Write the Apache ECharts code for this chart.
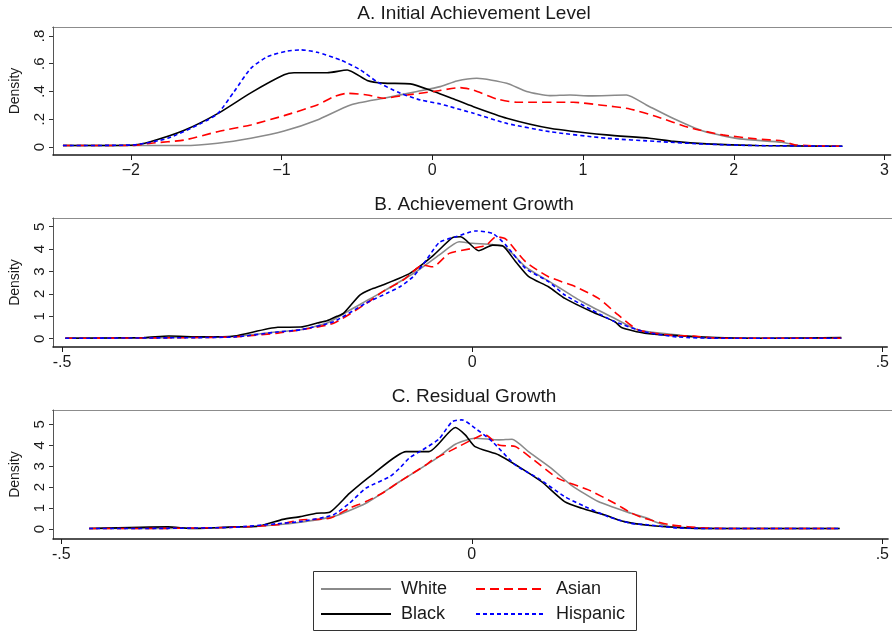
<!DOCTYPE html>
<html><head><meta charset="utf-8">
<script src="https://cdn.jsdelivr.net/npm/echarts@6/dist/echarts.min.js"></script>
<style>html,body{margin:0;padding:0;background:#fff}#c{width:892px;height:631px}</style>
</head><body><div id="c"></div>
<script>
const panelTitles = ['A. Initial Achievement Level','B. Achievement Growth','C. Residual Growth'];
const groups = ['White','Black','Asian','Hispanic'];
const ticksA_x = [-2,-1,0,1,2,3];
const ticksA_y = [0,0.2,0.4,0.6,0.8];
const ticksBC_x = [-0.5,0,0.5];
const ticksBC_y = [0,1,2,3,4,5];

const aWhite = [[-2.45,0.01],[-2.0,0.01],[-1.645,0.01],[-1.424,0.027],[-1.204,0.063],[-0.983,0.115],[-0.763,0.195],[-0.542,0.303],[-0.322,0.351],[-0.101,0.40],[0.053,0.435],[0.163,0.476],[0.295,0.495],[0.494,0.459],[0.626,0.40],[0.78,0.37],[0.913,0.375],[1.045,0.368],[1.288,0.375],[1.42,0.303],[1.596,0.207],[1.795,0.115],[2.04,0.058],[2.32,0.034],[2.43,0.01],[2.72,0.005]];
const aBlack = [[-2.45,0.01],[-2.0,0.012],[-1.865,0.04],[-1.645,0.12],[-1.424,0.24],[-1.204,0.39],[-0.983,0.52],[-0.917,0.535],[-0.697,0.535],[-0.564,0.555],[-0.432,0.48],[-0.322,0.46],[-0.146,0.455],[0.01,0.40],[0.12,0.355],[0.273,0.29],[0.494,0.207],[0.78,0.135],[1.155,0.087],[1.44,0.063],[1.6,0.04],[1.82,0.022],[2.15,0.01],[2.72,0.005]];
const aAsian = [[-2.45,0.01],[-2.0,0.01],[-1.865,0.027],[-1.645,0.05],[-1.424,0.11],[-1.204,0.159],[-0.983,0.226],[-0.763,0.303],[-0.653,0.363],[-0.564,0.387],[-0.432,0.375],[-0.322,0.351],[-0.167,0.375],[0.01,0.40],[0.185,0.428],[0.273,0.41],[0.428,0.346],[0.56,0.322],[0.935,0.322],[1.11,0.303],[1.31,0.274],[1.486,0.219],[1.706,0.139],[1.927,0.087],[2.147,0.058],[2.323,0.043],[2.41,0.014],[2.72,0.005]];
const aHispanic = [[-2.45,0.01],[-1.98,0.015],[-1.755,0.063],[-1.534,0.17],[-1.424,0.24],[-1.314,0.40],[-1.204,0.567],[-1.093,0.651],[-0.961,0.692],[-0.873,0.70],[-0.763,0.683],[-0.608,0.627],[-0.476,0.555],[-0.366,0.47],[-0.212,0.387],[-0.079,0.339],[0.053,0.31],[0.119,0.29],[0.273,0.243],[0.494,0.17],[0.78,0.11],[1.155,0.063],[1.486,0.04],[1.817,0.02],[2.15,0.01],[2.72,0.005]];

const bWhite = [[-0.496,0.02],[-0.37,0.05],[-0.29,0.1],[-0.237,0.31],[-0.209,0.4],[-0.177,0.7],[-0.149,1.28],[-0.109,2.1],[-0.068,3.0],[-0.04,3.74],[-0.016,4.33],[0.0,4.26],[0.025,4.2],[0.041,4.08],[0.065,3.21],[0.101,2.4],[0.134,1.65],[0.174,0.9],[0.202,0.39],[0.243,0.2],[0.28,0.05],[0.35,0.02],[0.45,0.03]];
const bBlack = [[-0.496,0.02],[-0.4,0.05],[-0.37,0.12],[-0.33,0.08],[-0.29,0.12],[-0.237,0.51],[-0.209,0.52],[-0.189,0.7],[-0.177,0.8],[-0.165,1.0],[-0.157,1.13],[-0.137,1.95],[-0.124,2.2],[-0.109,2.4],[-0.076,2.92],[-0.048,3.7],[-0.024,4.51],[-0.014,4.55],[0.008,3.93],[0.025,4.18],[0.037,4.15],[0.053,3.44],[0.069,2.77],[0.093,2.32],[0.113,1.8],[0.146,1.2],[0.174,0.76],[0.182,0.5],[0.21,0.25],[0.275,0.09],[0.36,0.02],[0.45,0.05]];
const bAsian = [[-0.496,0.02],[-0.37,0.04],[-0.29,0.08],[-0.237,0.25],[-0.209,0.4],[-0.169,0.69],[-0.129,1.58],[-0.109,2.1],[-0.084,2.62],[-0.06,3.29],[-0.048,3.21],[-0.028,3.81],[0.0,4.03],[0.017,4.18],[0.029,4.55],[0.041,4.45],[0.065,3.44],[0.093,2.77],[0.126,2.32],[0.154,1.8],[0.178,1.06],[0.202,0.4],[0.243,0.15],[0.27,0.12],[0.30,0.02],[0.45,0.02]];
const bHispanic = [[-0.496,0.02],[-0.37,0.04],[-0.29,0.08],[-0.237,0.3],[-0.209,0.4],[-0.169,0.76],[-0.129,1.6],[-0.104,2.03],[-0.088,2.32],[-0.072,2.77],[-0.056,3.51],[-0.04,4.3],[-0.02,4.55],[0.004,4.81],[0.025,4.7],[0.041,4.18],[0.065,3.14],[0.093,2.55],[0.113,1.95],[0.146,1.28],[0.174,0.76],[0.21,0.31],[0.25,0.08],[0.3,0.02],[0.45,0.02]];

const cWhite = [[-0.466,0.02],[-0.37,0.03],[-0.29,0.08],[-0.237,0.2],[-0.209,0.32],[-0.169,0.59],[-0.129,1.23],[-0.088,2.26],[-0.044,3.35],[-0.02,4.05],[0.004,4.34],[0.033,4.26],[0.049,4.29],[0.069,3.7],[0.097,2.9],[0.121,2.1],[0.154,1.31],[0.194,0.75],[0.214,0.51],[0.223,0.35],[0.243,0.1],[0.283,0.02],[0.448,0.02]];
const cBlack = [[-0.466,0.02],[-0.37,0.1],[-0.34,0.02],[-0.29,0.1],[-0.262,0.12],[-0.23,0.46],[-0.209,0.59],[-0.189,0.75],[-0.173,0.8],[-0.149,1.7],[-0.121,2.6],[-0.08,3.7],[-0.052,3.7],[-0.02,4.85],[-0.008,4.5],[0.004,3.94],[0.033,3.54],[0.057,2.98],[0.085,2.26],[0.113,1.31],[0.134,0.99],[0.162,0.67],[0.186,0.35],[0.214,0.18],[0.263,0.05],[0.3,0.02],[0.448,0.02]];
const cAsian = [[-0.466,0.02],[-0.37,0.03],[-0.29,0.08],[-0.237,0.2],[-0.209,0.43],[-0.173,0.51],[-0.149,0.99],[-0.129,1.31],[-0.109,1.71],[-0.088,2.26],[-0.056,3.06],[-0.048,3.3],[-0.028,3.7],[-0.016,3.94],[0.004,4.34],[0.015,4.53],[0.033,4.02],[0.053,3.94],[0.073,3.38],[0.105,2.42],[0.142,1.87],[0.174,1.23],[0.194,0.77],[0.21,0.51],[0.243,0.19],[0.283,0.05],[0.32,0.02],[0.448,0.02]];
const cHispanic = [[-0.466,0.02],[-0.37,0.03],[-0.29,0.08],[-0.237,0.25],[-0.209,0.35],[-0.169,0.67],[-0.149,1.23],[-0.129,1.95],[-0.1,2.5],[-0.088,2.9],[-0.076,3.4],[-0.06,3.78],[-0.04,4.3],[-0.024,5.13],[-0.012,5.22],[0.004,4.82],[0.025,4.18],[0.053,3.06],[0.081,2.42],[0.113,1.55],[0.138,1.07],[0.166,0.59],[0.194,0.27],[0.214,0.2],[0.25,0.05],[0.3,0.02],[0.448,0.02]];

const FONT = 'Liberation Sans, Arial, Helvetica, sans-serif';
const styles = {
  White: {color:'#8a8a8a', type:'solid', width:1.6},
  Black: {color:'#000000', type:'solid', width:1.6},
  Asian: {color:'#ff0000', type:[9,5], width:1.6},
  Hispanic: {color:'#0000ff', type:[4,3], width:1.6}
};
const panels = [
  {data:{White:aWhite,Black:aBlack,Asian:aAsian,Hispanic:aHispanic}, top:27, height:128, xmin:-2.516, xmax:3.04, ymin:-0.058, ymax:0.865, xt:ticksA_x, yt:ticksA_y, ty:14},
  {data:{White:bWhite,Black:bBlack,Asian:bAsian,Hispanic:bHispanic}, top:218, height:129, xmin:-0.511, xmax:0.506, ymin:-0.37, ymax:5.39, xt:ticksBC_x, yt:ticksBC_y, ty:205},
  {data:{White:cWhite,Black:cBlack,Asian:cAsian,Hispanic:cHispanic}, top:410, height:129, xmin:-0.51, xmax:0.507, ymin:-0.48, ymax:5.69, xt:ticksBC_x, yt:ticksBC_y, ty:397}
];
function fmtNum(v, minusSign){
  if (Math.abs(v) < 1e-9) return '0';
  let s = String(Math.round(v*10)/10);
  s = s.replace(/^(-?)0\./,'$1.');
  return s.replace('-', minusSign);
}
const grid=[], xAxis=[], yAxis=[], series=[], graphic=[];
panels.forEach((p,i)=>{
  grid.push({left:52, top:p.top, right:0, height:p.height, show:false, containLabel:false});
  xAxis.push({type:'value', gridIndex:i, min:p.xmin, max:p.xmax,
    axisLine:{show:true, onZero:false, lineStyle:{color:'#1a1a1a', width:1.5}},
    axisTick:{show:true, length:5, customValues:p.xt, lineStyle:{color:'#1a1a1a'}},
    axisLabel:{customValues:p.xt, margin:8, color:'#1a1a1a', fontFamily:FONT, fontSize:16, formatter:v=>fmtNum(v, i===0?'\u2212':'-')},
    splitLine:{show:false}});
  yAxis.push({type:'value', gridIndex:i, min:p.ymin, max:p.ymax,
    name:'Density', nameLocation:'middle', nameGap:31, nameTextStyle:{fontFamily:FONT, fontSize:14, color:'#1a1a1a'},
    axisLine:{show:true, onZero:false, lineStyle:{color:'#555', width:1}},
    axisTick:{show:true, length:4, customValues:p.yt, lineStyle:{color:'#333'}},
    axisLabel:{customValues:p.yt, rotate:90, margin:6, color:'#1a1a1a', fontFamily:FONT, fontSize:15, formatter:v=>fmtNum(v,'-')},
    splitLine:{show:false}});
  groups.forEach(g=>{
    series.push({type:'line', name:g, xAxisIndex:i, yAxisIndex:i, data:p.data[g], symbol:'none', smooth:0.2,
      lineStyle:styles[g], itemStyle:{color:styles[g].color}, z: g==='White'?2:3});
  });
  graphic.push({type:'line', shape:{x1:52, y1:p.top+0.5, x2:892, y2:p.top+0.5}, style:{stroke:'#8c8c8c', lineWidth:1}, silent:true});
  graphic.push({type:'text', x:474, y:p.ty, style:{text:panelTitles[i], font:'19px '+FONT, fill:'#1a1a1a', align:'center', verticalAlign:'middle', textAlign:'center', textVerticalAlign:'middle'}});
});
graphic.push({type:'rect', shape:{x:313.5, y:571.5, width:323, height:59}, style:{fill:'none', stroke:'#333', lineWidth:1}});
const legendCommon = {orient:'vertical', itemWidth:70, itemHeight:18, itemGap:7, padding:0,
  itemStyle:{opacity:0, borderWidth:0},
  textStyle:{fontFamily:FONT, fontSize:18, lineHeight:18, color:'#1a1a1a', padding:[0,0,0,5]}};
const option = {
  animation:false,
  backgroundColor:'#fff',
  grid, xAxis, yAxis, series, graphic,
  legend:[
    Object.assign({left:320, top:580, data:['White','Black']}, legendCommon),
    Object.assign({left:475, top:580, data:['Asian','Hispanic']}, legendCommon)
  ]
};
const chart = echarts.init(document.getElementById('c'));
chart.setOption(option);
</script></body></html>
